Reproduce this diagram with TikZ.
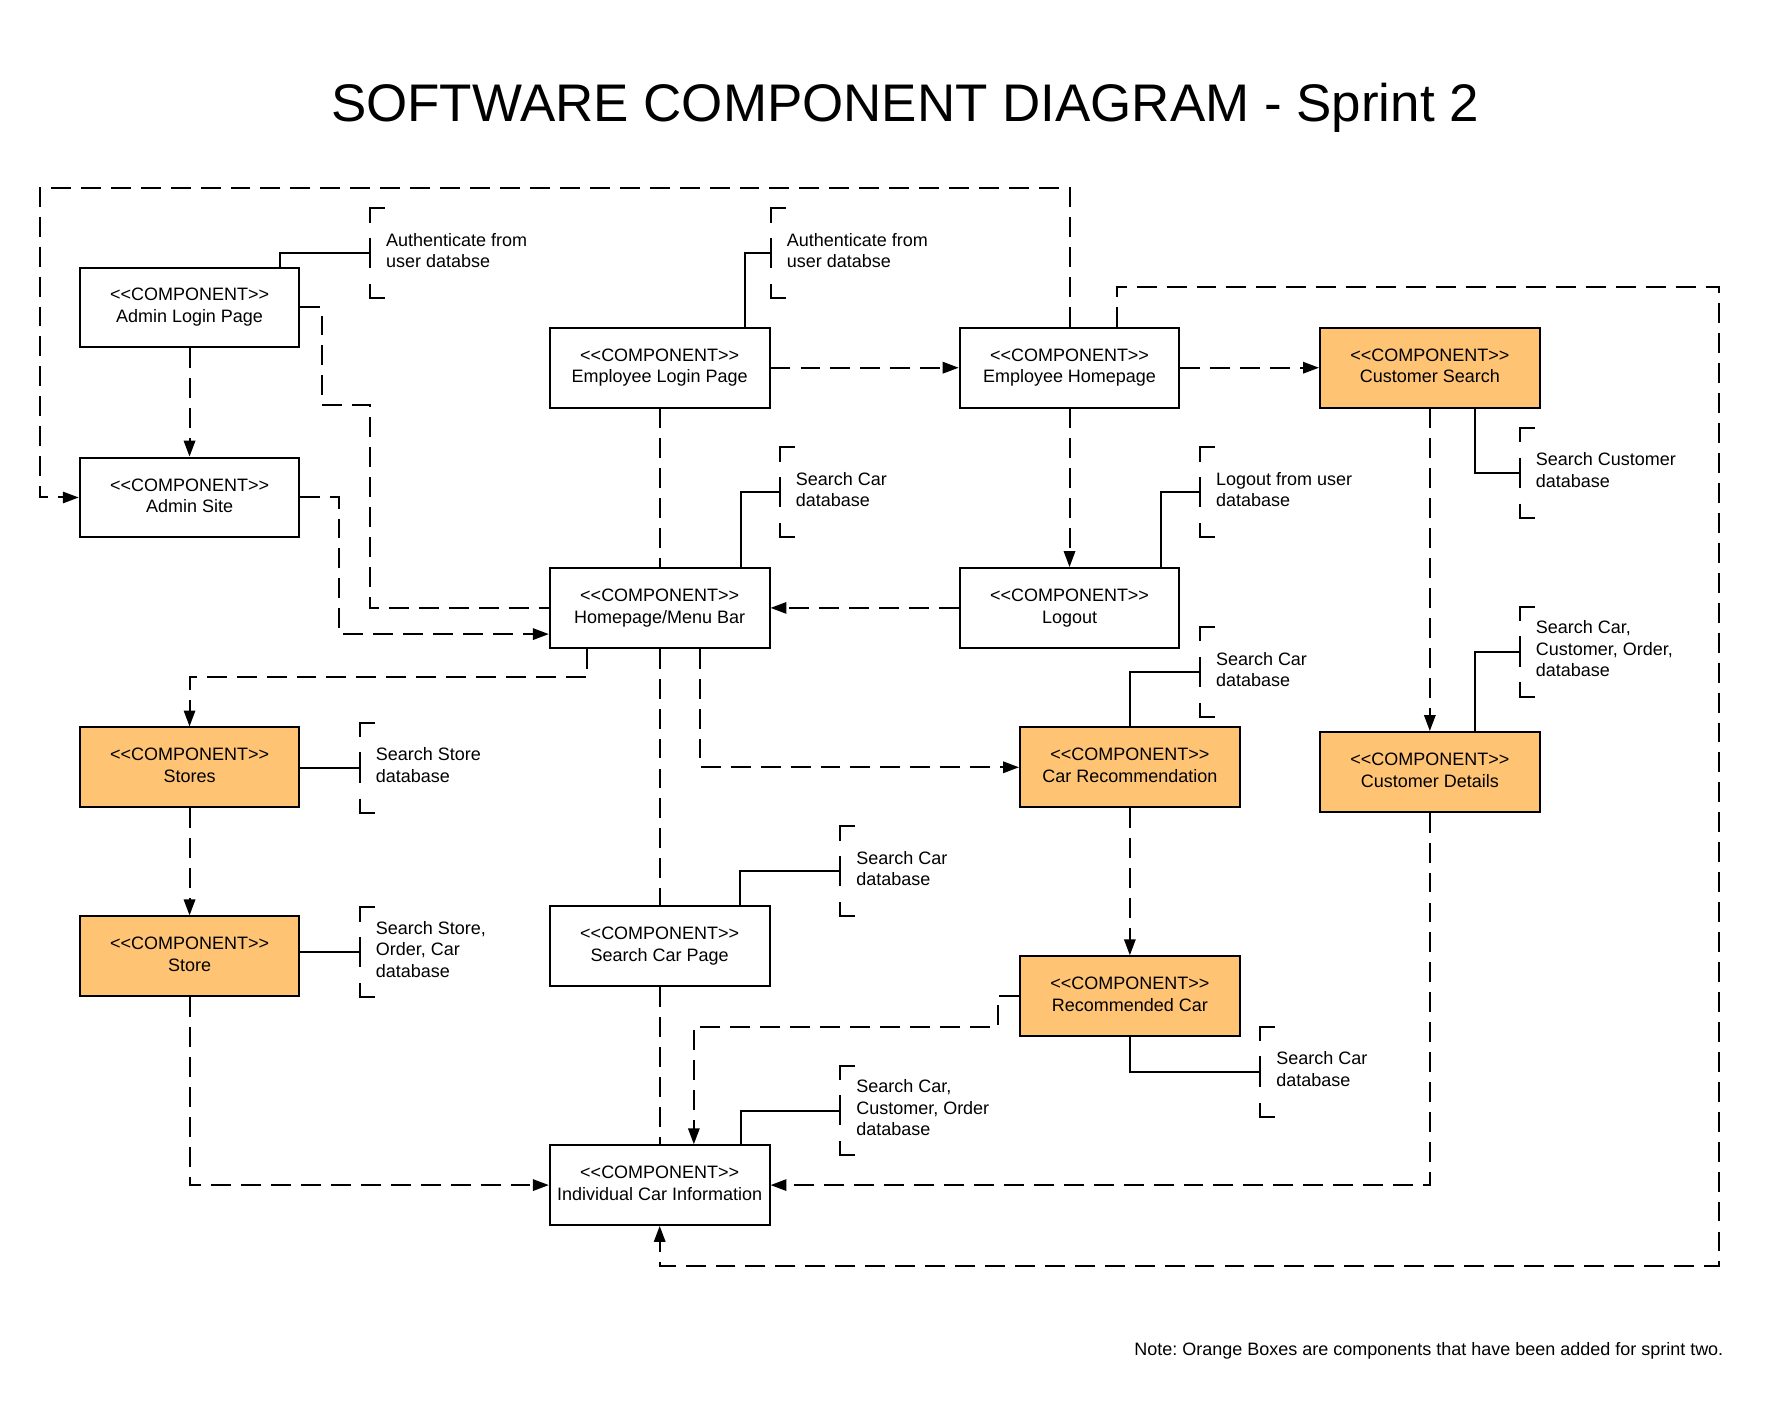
\documentclass[tikz,border=0pt]{standalone}
\usepackage{fontspec}
\setmainfont{Liberation Sans}
\usetikzlibrary{arrows.meta}

\definecolor{addedorange}{HTML}{FFC374}
% kerns keep the paired angle brackets from turning into guillemets
\newcommand{\stereo}{<\kern0pt<COMPONENT>\kern0pt>}

% annotation bracket: #1 name, #2 x, #3 top y, #4 text
\newcommand{\notebracket}[4]{%
  \draw[link, line join=miter] (#2+13,#3) -- (#2,#3) -- (#2,#3+12.5)
    (#2,#3+26) -- (#2,#3+52.5)
    (#2,#3+66.5) -- (#2,#3+79) -- (#2+13,#3+79);
  \coordinate (#1) at (#2,#3+39.5);
  \node[notetext] (#1t) at (#2+14,#3+37) {#4};
}

\tikzset{
  comp/.style={draw, line width=1.75pt, minimum width=193pt, minimum height=70pt,
    inner sep=0pt, align=center, font=\fontsize{15.8}{19}\selectfont,
    execute at end node={\vphantom{g}}},
  added/.style={comp, fill=addedorange},
  link/.style={line width=1.75pt},
  plainflow/.style={line width=1.75pt, dash pattern=on 17.5pt off 8.8pt},
  flow/.style={plainflow, -{Triangle[length=14pt,width=10pt]}},
  notetext/.style={anchor=west, align=left, inner sep=0pt, font=\fontsize{15.8}{19}\selectfont},
}

\frenchspacing
\begin{document}
\begin{tikzpicture}[x=1pt, y=-1pt]
\fill[white] (0,0) rectangle (1568,1240);
\useasboundingbox (0,0) rectangle (1568,1240);

\node[anchor=base, font=\fontsize{46.5}{56}\selectfont] (title) at (795,107)
  {SOFTWARE COMPONENT DIAGRAM - Sprint 2};

% components
\node[comp]  (alp) at (166.5,270)  {\stereo\\Admin Login Page};
\node[comp]  (as)  at (166.5,437)  {\stereo\\Admin Site};
\node[comp]  (elp) at (579.5,323)  {\stereo\\Employee Login Page};
\node[comp]  (eh)  at (939.5,323)  {\stereo\\Employee Homepage};
\node[added] (cs)  at (1256,323)   {\stereo\\Customer Search};
\node[comp]  (hm)  at (579.5,534)  {\stereo\\Homepage/Menu Bar};
\node[comp]  (lo)  at (939.5,534)  {\stereo\\Logout};
\node[added] (sto) at (166.5,674)  {\stereo\\Stores};
\node[added] (cr)  at (992.5,674)  {\stereo\\Car Recommendation};
\node[added] (cd)  at (1256,678)   {\stereo\\Customer Details};
\node[added] (st)  at (166.5,840)  {\stereo\\Store};
\node[comp]  (scp) at (579.5,831)  {\stereo\\Search Car Page};
\node[added] (rc)  at (992.5,875)  {\stereo\\Recommended Car};
\node[comp]  (ici) at (579.5,1041) {\stereo\\Individual Car Information};

% annotations
\notebracket{a1}{325}{183}{Authenticate from\\user databse}
\notebracket{a2}{677}{183}{Authenticate from\\user databse}
\notebracket{a3}{685}{393}{Search Car\\database}
\notebracket{a4}{1054}{393}{Logout from user\\database}
\notebracket{a5}{1335}{376}{Search Customer\\database}
\notebracket{a6}{1335}{533}{Search Car,\\Customer, Order,\\database}
\notebracket{a7}{1054}{551}{Search Car\\database}
\notebracket{a8}{316}{635}{Search Store\\database}
\notebracket{a9}{316}{797}{Search Store,\\Order, Car\\database}
\notebracket{a10}{738}{726}{Search Car\\database}
\notebracket{a11}{1107}{902}{Search Car\\database}
\notebracket{a12}{738}{936}{Search Car,\\Customer, Order\\database}

\draw[link] ([xshift=79.5pt]alp.north) |- (a1);
\draw[link] ([xshift=74.5pt]elp.north) |- (a2);
\draw[link] ([xshift=71.5pt]hm.north) |- (a3);
\draw[link] ([xshift=80.5pt]lo.north) |- (a4);
\draw[link] ([xshift=40pt]cs.south) |- (a5);
\draw[link] ([xshift=40pt]cd.north) |- (a6);
\draw[link] (cr.north) |- (a7);
\draw[link] (sto.east |- a8) -- (a8);
\draw[link] (st.east |- a9) -- (a9);
\draw[link] ([xshift=70.5pt]scp.north) |- (a10);
\draw[link] (rc.south) |- (a11);
\draw[link] ([xshift=71.5pt]ici.north) |- (a12);

% flows between components
\draw[flow] (eh.north) |- (35,165) |- (as.west);
\draw[flow] (alp.south) -- (as.north);
\draw[plainflow] (alp.east) -- (283,270) |- (325,356) |- (hm.west);
\draw[flow] (as.east) -- (298,437) |- ([yshift=-23pt]hm.west);
\draw[flow] (elp.east) -- (eh.west);
\draw[flow] (eh.east) -- (cs.west);
\draw[flow] (eh.south) -- (lo.north);
\draw[flow] (lo.west) -- (hm.east);
\draw[plainflow] (elp.south) -- (hm.north);
\draw[plainflow] (hm.south) -- (scp.north);
\draw[plainflow] (scp.south) -- (ici.north);
\draw[flow] ([xshift=-63.5pt]hm.south) -- ++(0,25) -| (sto.north);
\draw[flow] ([xshift=35pt]hm.south) |- (cr.west);
\draw[flow] (sto.south) -- (st.north);
\draw[flow] (st.south) |- (ici.west);
\draw[flow] (cr.south) -- (rc.north);
\draw[flow] (rc.west) -| (877,902) -| ([xshift=30pt]ici.north);
\draw[flow] (cs.south) -- (cd.north);
\draw[flow] (cd.south) |- (ici.east);
\draw[flow] ([xshift=41.5pt]eh.north) |- (1510,252) -- (1510,1112) -| (ici.south);

\node[anchor=base east, inner sep=0pt, font=\fontsize{15.8}{19}\selectfont] (note) at (1514,1190.5)
  {Note: Orange Boxes are components that have been added for sprint two.};
\end{tikzpicture}
\end{document}
